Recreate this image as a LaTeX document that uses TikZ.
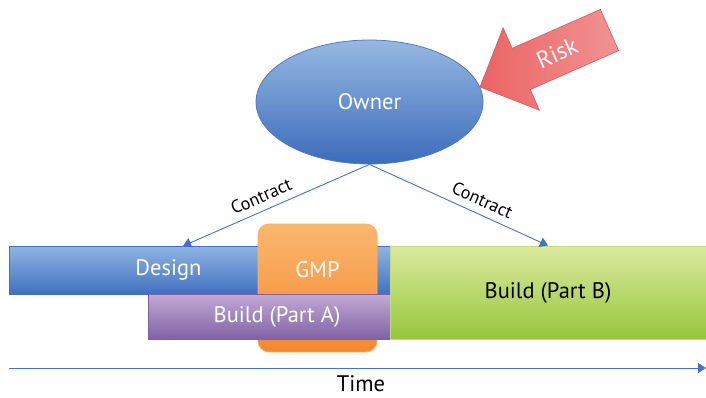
\documentclass[tikz,border=0pt]{standalone}
\usepackage{fontspec}
\setmainfont{PT Sans}
\usetikzlibrary{arrows.meta,shapes.geometric}
\definecolor{lineblue}{RGB}{68,114,196}
\definecolor{dtop}{RGB}{143,181,226}
\definecolor{dbot}{RGB}{66,112,192}
\definecolor{otop}{RGB}{150,184,226}
\definecolor{obot}{RGB}{60,108,186}
\definecolor{gtop}{RGB}{250,184,110}
\definecolor{gbot}{RGB}{245,136,48}
\definecolor{atop}{RGB}{194,170,212}
\definecolor{abot}{RGB}{128,98,164}
\definecolor{btop}{RGB}{220,234,160}
\definecolor{bbot}{RGB}{150,198,60}
\definecolor{riskred}{RGB}{236,100,100}
\def\fs{\fontsize{22.5}{26}\selectfont}
\tikzset{every node/.style={font=\fs},
    bar/.style 2 args={rectangle,top color=#1,bottom color=#2,draw=#2,line width=.8pt,inner sep=0pt},
    conn/.style={draw=lineblue,line width=.9pt,-{Triangle[width=10pt,length=8pt]}},
    ctr/.style={font=\fontsize{18}{21}\selectfont,sloped,above=4pt},
    wlbl/.style={text=white}}

\begin{document}
\begin{tikzpicture}[x=1pt,y=-1pt]
    \useasboundingbox (0,0) rectangle (706,397);
    \node[bar={dtop}{dbot},minimum width=381pt,minimum height=48pt,
      label={[wlbl,xshift=-31pt]center:Design}] (design) at (199.5,270) {};
    \node[bar={gtop}{gbot},draw=gtop!85!gbot,rounded corners=11pt,minimum width=119pt,minimum height=128pt,
      label={[wlbl,yshift=18pt]center:GMP}] (gmp) at (317.5,288) {};
    \node[bar={atop}{abot},minimum width=242pt,minimum height=45pt,
      label={[wlbl,xshift=8pt]center:Build (Part A)}] (buildA) at (269,316.5) {};
    \node[bar={btop}{bbot},draw=btop!60!bbot,minimum width=316pt,minimum height=93pt] (buildB) at (548,292.5) {Build (Part B)};
    \node[ellipse,top color=otop,bottom color=obot,draw=obot!80!otop,line width=.8pt,
      minimum width=227pt,minimum height=124pt,text=white] (owner) at (369.5,102) {Owner};
    \path[left color=riskred,right color=riskred!70!white,draw=riskred!90!black,line width=.6pt] (480,87) -- (503.1,27.7) -- (512.1,48.3)
      -- (600.4,9.4) -- (618.6,50.6) -- (530.3,89.5) -- (539.3,110.1) -- cycle;
    \node[wlbl,rotate=23.8,font=\fontsize{24}{28}\selectfont] (risk) at (557,53) {Risk};
    \coordinate (dtip) at (183,246);
    \foreach \t/\p in {dtip/.55,buildB.north/.6}
      \draw[conn] (owner.south) -- node[ctr,pos=\p] {Contract} (\t);
    \coordinate (t0) at (9,368);
    \coordinate (t1) at (706,368);
    \draw[conn] (t0) -- (t1);
    \node (time) at (361,384) {Time};
\end{tikzpicture}
\end{document}
